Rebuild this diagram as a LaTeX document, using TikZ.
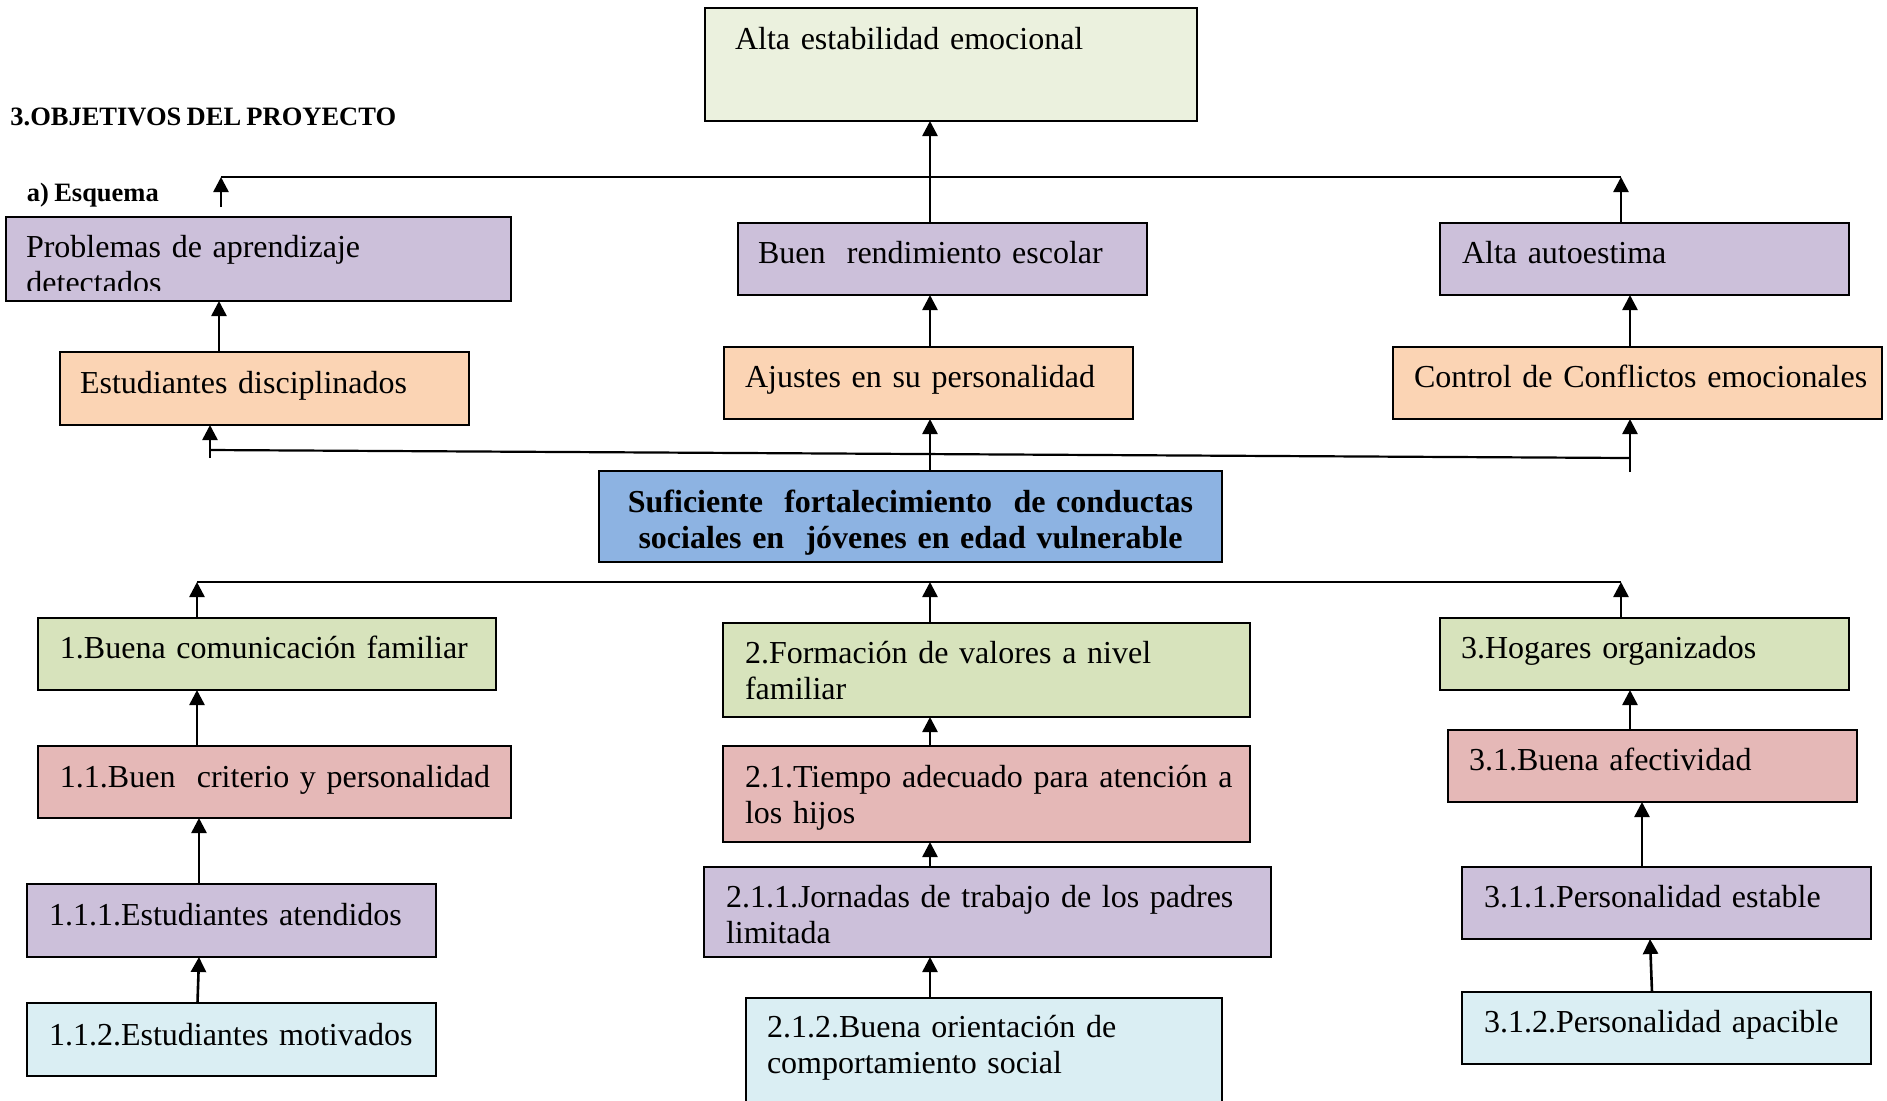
\documentclass[tikz,border=0pt]{standalone}
\usepackage{fontspec}
\setmainfont{Liberation Serif}[WordSpace=0.8]
\usetikzlibrary{arrows.meta}
\definecolor{topgreen}{HTML}{EBF1DE}
\definecolor{lav}{HTML}{CCC0DA}
\definecolor{peach}{HTML}{FBD4B4}
\definecolor{cenblue}{HTML}{8DB3E2}
\definecolor{grn}{HTML}{D7E3BC}
\definecolor{boxpink}{HTML}{E5B8B7}
\definecolor{cyanl}{HTML}{DAEEF3}
\newcommand{\bodyfnt}{\fontsize{16}{18.3}\selectfont}
% new line inside a box, keeping the left inset
\newcommand{\nl}{\\\hspace*{\bxI pt}}
% #1 name, #2 x1, #3 y1, #4 x2, #5 y2, #6 left inset, #7 first baseline, #8 style, #9 text (all in px)
\newcommand{\obox}[9]{%
  \pgfmathsetmacro\bxW{(#4-#2)/2}%
  \pgfmathsetmacro\bxH{(#7-#3)/2}%
  \pgfmathsetmacro\bxD{(#5-#7)/2}%
  \pgfmathsetmacro\bxI{#6/2}%
  \node[box,#8,text width=\bxW pt,text height=\bxH pt,text depth=\bxD pt] (#1) at (#2,#3) {\hspace*{\bxI pt}#9};%
}
\begin{document}
\begin{tikzpicture}[x=0.5pt,y=-0.5pt,
  box/.style={draw=black, line width=1.1pt, outer sep=0pt, inner sep=0pt, anchor=north west, align=left, font=\bodyfnt},
  arr/.style={line width=1.3pt, -{Triangle[length=7.5pt,width=7.5pt]}},
  busline/.style={line width=1.1pt},
  head/.style={anchor=base west, inner sep=0pt, font=\bfseries\fontsize{13.25}{15}\selectfont}]
\useasboundingbox (0,0) rectangle (1887,1100);

% headings
\node[head] (title) at (10,125) {3.OBJETIVOS DEL PROYECTO};
\node[head] (esq) at (26.5,201) {a) Esquema};

% upper boxes
\obox{alta}{705}{8}{1197}{121}{30}{49}{fill=topgreen}{Alta estabilidad emocional}
\obox{prob}{6}{217}{511}{301}{20}{257}{fill=lav}{Problemas de aprendizaje}
\begin{scope}
  \clip (6,217) rectangle (511,290);
  \node[anchor=base west, inner sep=0pt, font=\bodyfnt] (probt) at (26,293) {detectados};
\end{scope}
\obox{buen}{738}{223}{1147}{295}{20}{263}{fill=lav}{Buen~ rendimiento escolar}
\obox{autoe}{1440}{223}{1849}{295}{22}{263}{fill=lav}{Alta autoestima}
\obox{estd}{60}{352}{469}{425}{20}{393}{fill=peach}{Estudiantes disciplinados}
\obox{ajus}{724}{347}{1133}{419}{21}{387}{fill=peach}{Ajustes en su personalidad}
\obox{ctrl}{1393}{347}{1882}{419}{21}{387}{fill=peach}{Control de Conflictos emocionales}

% central box
\node[box, fill=cenblue, align=center, font=\bfseries\bodyfnt, text width=311.5pt, text height=20.5pt, text depth=25pt] (cen) at (599,471)
  {Suficiente~ fortalecimiento~ de conductas\\sociales en~ jóvenes en edad vulnerable};

% lower boxes
\obox{b1}{38}{618}{496}{690}{22}{658}{fill=grn}{1.Buena comunicación familiar}
\obox{b2}{723}{623}{1250}{717}{22}{663}{fill=grn}{2.Formación de valores a nivel\nl familiar}
\obox{b3}{1440}{618}{1849}{690}{21}{658}{fill=grn}{3.Hogares organizados}
\obox{c1}{38}{746}{511}{818}{22}{787}{fill=boxpink}{1.1.Buen~ criterio y personalidad}
\obox{c2}{723}{746}{1250}{842}{22}{787}{fill=boxpink}{2.1.Tiempo adecuado para atención a\nl los hijos}
\obox{c3}{1448}{730}{1857}{802}{21}{770}{fill=boxpink}{3.1.Buena afectividad}
\obox{d1}{27}{884}{436}{957}{22}{925}{fill=lav}{1.1.1.Estudiantes atendidos}
\obox{d2}{704}{867}{1271}{957}{22}{907}{fill=lav}{2.1.1.Jornadas de trabajo de los padres\nl limitada}
\obox{d3}{1462}{867}{1871}{939}{22}{907}{fill=lav}{3.1.1.Personalidad estable}
\obox{e1}{27}{1003}{436}{1076}{22}{1045}{fill=cyanl}{1.1.2.Estudiantes motivados}
\obox{e2}{746}{998}{1222}{1112}{21}{1037}{fill=cyanl}{2.1.2.Buena orientación de\nl comportamiento social}
\obox{e3}{1462}{992}{1871}{1064}{22}{1032}{fill=cyanl}{3.1.2.Personalidad apacible}

% column coordinates
\coordinate (mx) at (930,0);
\coordinate (rx) at (1630,0);
\coordinate (lx1) at (219,0);

% top bus
\coordinate (tbL) at (221,177);
\coordinate (tbR) at (1621,177);
\draw[busline] (tbL) -- (tbR);
\draw[arr] ([yshift=5pt]prob.north -| tbL) -- (tbL);
\draw[arr] (buen.north -| mx) -- (alta.south -| mx);
\draw[arr] (autoe.north -| tbR) -- (tbR);
\draw[arr] (estd.north -| lx1) -- (prob.south -| lx1);
\draw[arr] (ajus.north -| mx) -- (buen.south -| mx);
\draw[arr] (ctrl.north -| rx) -- (autoe.south -| rx);

% lower (middle) bus
\coordinate (lbL) at (210,450);
\coordinate (lbR) at (1630,458);
\coordinate (lbLt) at (210,458);
\coordinate (lbRt) at (1630,472);
\draw[busline] (lbL) -- (lbR);
\draw[arr] (lbLt) -- (estd.south -| lbLt);
\draw[arr] (lbRt) -- (ctrl.south -| lbRt);
\draw[arr] (cen.north -| mx) -- (ajus.south -| mx);

% bottom bus
\coordinate (bbL) at (197,582);
\coordinate (bbM) at (930,582);
\coordinate (bbR) at (1621,582);
\draw[busline] (bbL) -- (bbR);
\draw[arr] (b1.north -| bbL) -- (bbL);
\draw[arr] (b2.north -| bbM) -- (bbM);
\draw[arr] (b3.north -| bbR) -- (bbR);

% column 1
\coordinate (c1x) at (197,0);
\coordinate (d1x) at (199,0);
\coordinate (e1x) at (197.5,0);
\draw[arr] (c1.north -| c1x) -- (b1.south -| c1x);
\draw[arr] (d1.north -| d1x) -- (c1.south -| d1x);
\draw[arr] (e1.north -| e1x) -- (d1.south -| d1x);

% column 2
\draw[arr] (c2.north -| mx) -- (b2.south -| mx);
\draw[arr] (d2.north -| mx) -- (c2.south -| mx);
\draw[arr] (e2.north -| mx) -- (d2.south -| mx);

% column 3
\coordinate (d3x) at (1642,0);
\coordinate (e3x) at (1652,0);
\coordinate (e3y) at (1650,0);
\draw[arr] (c3.north -| rx) -- (b3.south -| rx);
\draw[arr] (d3.north -| d3x) -- (c3.south -| d3x);
\draw[arr] (e3.north -| e3x) -- (d3.south -| e3y);
\end{tikzpicture}
\end{document}
